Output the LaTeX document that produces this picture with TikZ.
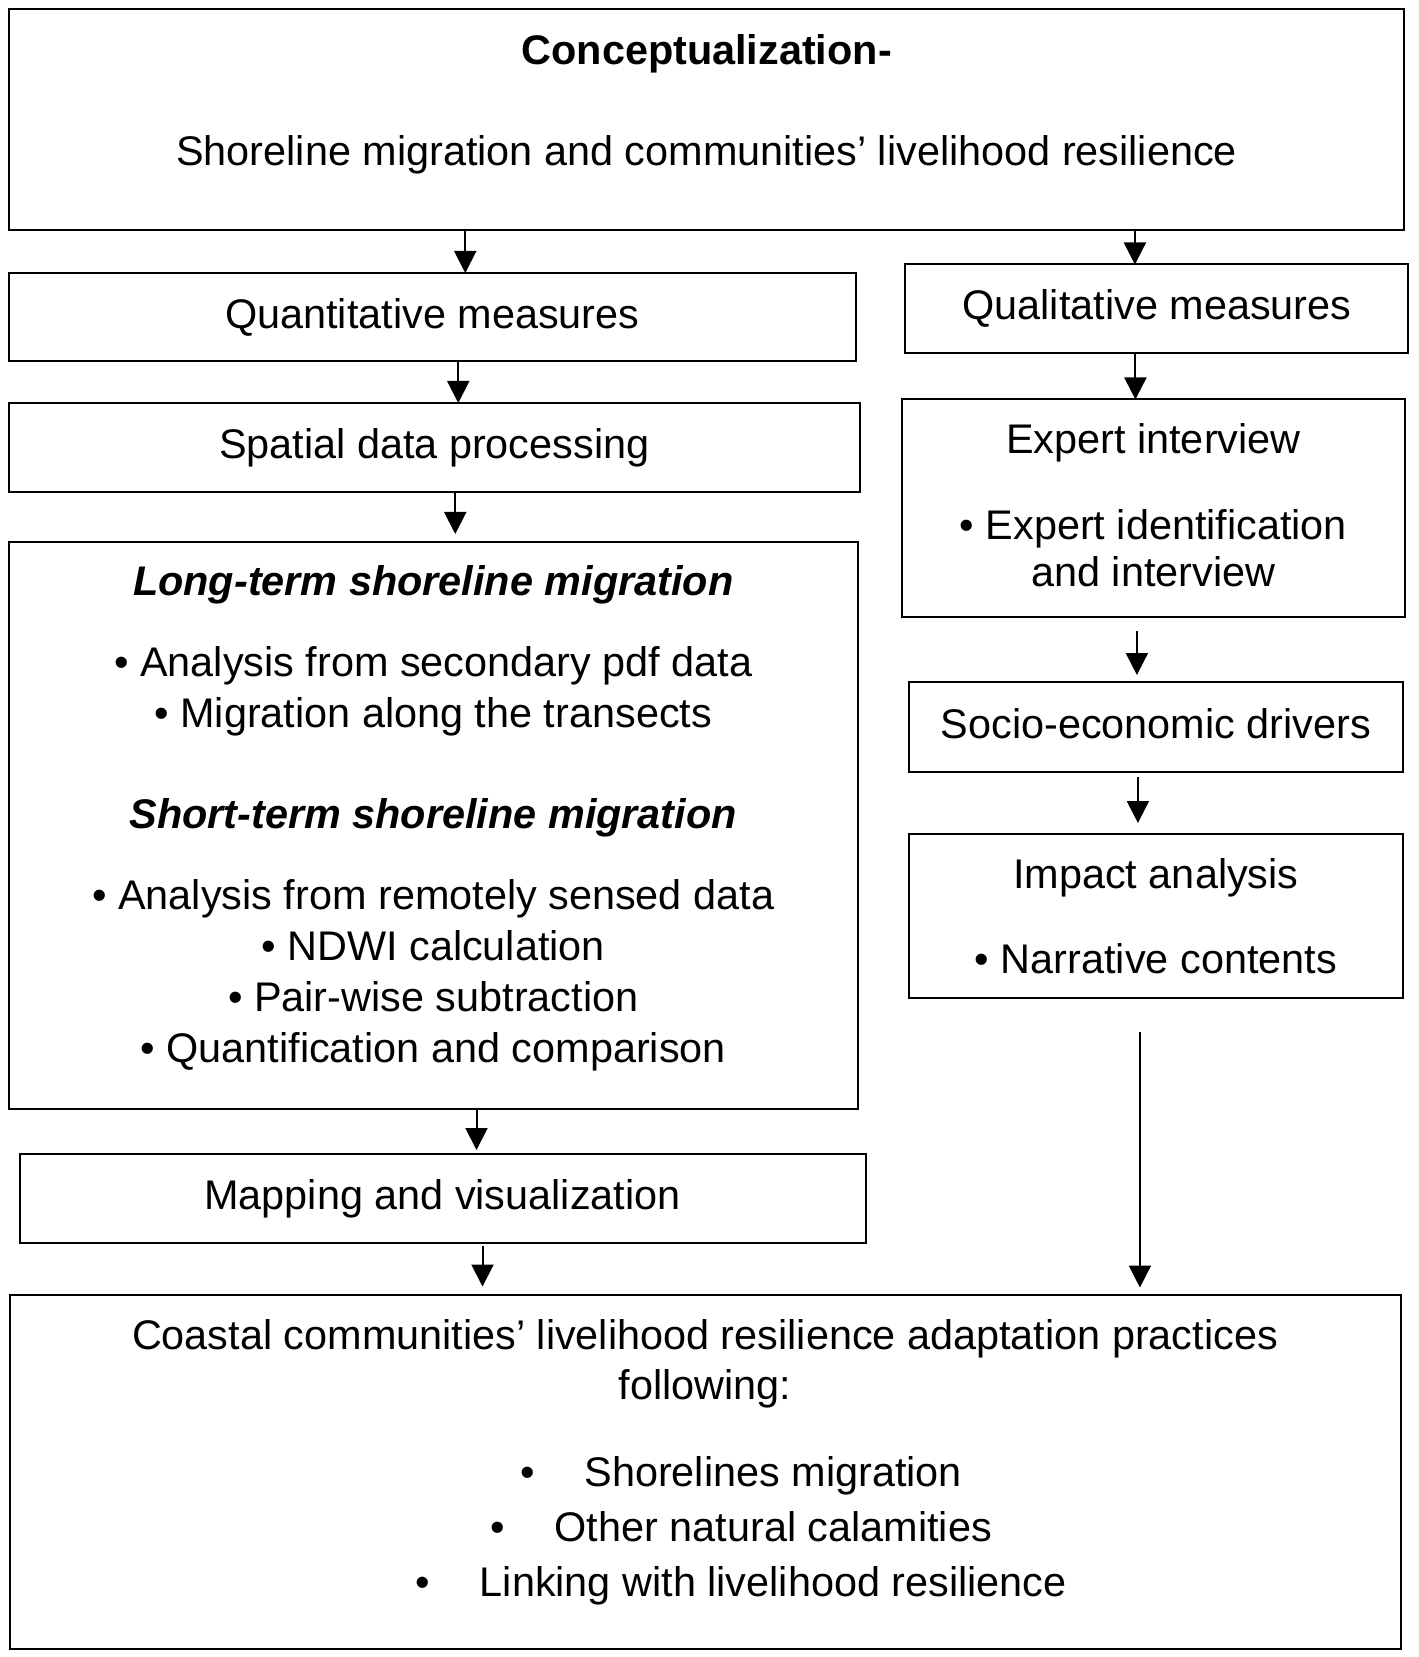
\documentclass[tikz,border=0pt]{standalone}
\usepackage{fontspec}
\setmainfont{Liberation Sans}
\usetikzlibrary{arrows.meta,positioning}

\begin{document}
\begin{tikzpicture}[
  box/.style={rectangle, draw=black, line width=1pt, align=center, inner sep=0pt, outer sep=0pt, font=\fontsize{20.7}{25}\selectfont},
  arrow/.style={-{Triangle[length=11pt,width=11pt]}, line width=1pt}
]
\useasboundingbox (0,0) rectangle (709pt,-828.5pt);

% left column
\node[box, anchor=north west, minimum width=697.7pt, minimum height=110.35pt] (concept) at (4.5pt,-4.65pt)
  {\textbf{Conceptualization-}\\[25.5pt]Shoreline migration and communities’ livelihood resilience\rule[-20pt]{0pt}{0pt}};
\node[box, below right=21.5pt and 0pt of concept.south west, minimum width=423.25pt, minimum height=44.25pt] (quant) {Quantitative measures};
\node[box, below right=20.75pt and 0pt of quant.south west, minimum width=425.25pt, minimum height=44.5pt] (spatial) {Spatial data processing};
\node[box, below right=25pt and 0pt of spatial.south west, minimum width=424.25pt, minimum height=283.5pt, font=\fontsize{20.7}{25.5}\selectfont] (longterm)
  {\textbf{\textit{Long-term shoreline migration}}\\[15pt]
   \textbullet\ Analysis from secondary pdf data\\
   \textbullet\ Migration along the transects\\[25pt]
   \textbf{\textit{Short-term shoreline migration}}\\[15pt]
   \textbullet\ Analysis from remotely sensed data\\
   \textbullet\ NDWI calculation\\
   \textbullet\ Pair-wise subtraction\\
   \textbullet\ Quantification and comparison\rule[-12pt]{0pt}{0pt}};
\node[box, below right=22.5pt and 5.25pt of longterm.south west, minimum width=423pt, minimum height=44.5pt] (mapping) {Mapping and visualization};
\node[box, below right=25.75pt and -5pt of mapping.south west, minimum width=695.5pt, minimum height=177pt] (adapt)
  {Coastal communities’ livelihood resilience adaptation practices\\
   following:\\[18.5pt]
   \hspace*{36pt}\textbullet\hspace{25pt}Shorelines migration\\[2.5pt]
   \hspace*{36pt}\textbullet\hspace{25pt}Other natural calamities\\[2.5pt]
   \hspace*{36pt}\textbullet\hspace{25pt}Linking with livelihood resilience\rule[-14pt]{0pt}{0pt}};

% right column
\node[box, below left=17.25pt and -2pt of concept.south east, minimum width=251.5pt, minimum height=44.25pt] (qual) {Qualitative measures};
\node[box, below left=23.25pt and 1.75pt of qual.south east, minimum width=251.5pt, minimum height=108.5pt, font=\fontsize{20.7}{23.5}\selectfont] (expert)
  {Expert interview\\[19.5pt]\textbullet\ Expert identification\\and interview\rule[-3pt]{0pt}{0pt}};
\node[box, below left=32.75pt and 1pt of expert.south east, minimum width=247pt, minimum height=45pt] (socio) {Socio-economic drivers\rule[-4pt]{0pt}{0pt}};
\node[box, below left=31pt and 0pt of socio.south east, minimum width=247pt, minimum height=82pt] (impact)
  {Impact analysis\\[17.5pt]\textbullet\ Narrative contents};

% connectors
\draw[arrow] ([xshift=16.5pt]quant.north |- concept.south) -- ([xshift=16.5pt]quant.north);
\draw[arrow] ([xshift=-11pt]qual.north |- concept.south) -- ([xshift=-11pt]qual.north);
\draw[arrow] ([xshift=12pt]spatial.north |- quant.south) -- ([xshift=12pt]spatial.north);
\draw[arrow, shorten >=4pt] ([xshift=11pt]longterm.north |- spatial.south) -- ([xshift=11pt]longterm.north);
\draw[arrow, shorten >=2pt] ([xshift=17pt]mapping.north |- longterm.south) -- ([xshift=17pt]mapping.north);
\draw[arrow, shorten <=1.5pt, shorten >=4pt] ([xshift=20pt]mapping.south) -- ([xshift=20pt]mapping.south |- adapt.north);
\draw[arrow] ([xshift=-9pt]expert.north |- qual.south) -- ([xshift=-9pt]expert.north);
\draw[arrow, shorten <=7pt, shorten >=3.5pt] ([xshift=-9.5pt]socio.north |- expert.south) -- ([xshift=-9.5pt]socio.north);
\draw[arrow, shorten <=2.5pt, shorten >=5.5pt] ([xshift=-9pt]impact.north |- socio.south) -- ([xshift=-9pt]impact.north);
\draw[arrow, shorten <=17pt, shorten >=3.5pt] ([xshift=-8pt]impact.south) -- ([xshift=-8pt]impact.south |- adapt.north);
\end{tikzpicture}
\end{document}
